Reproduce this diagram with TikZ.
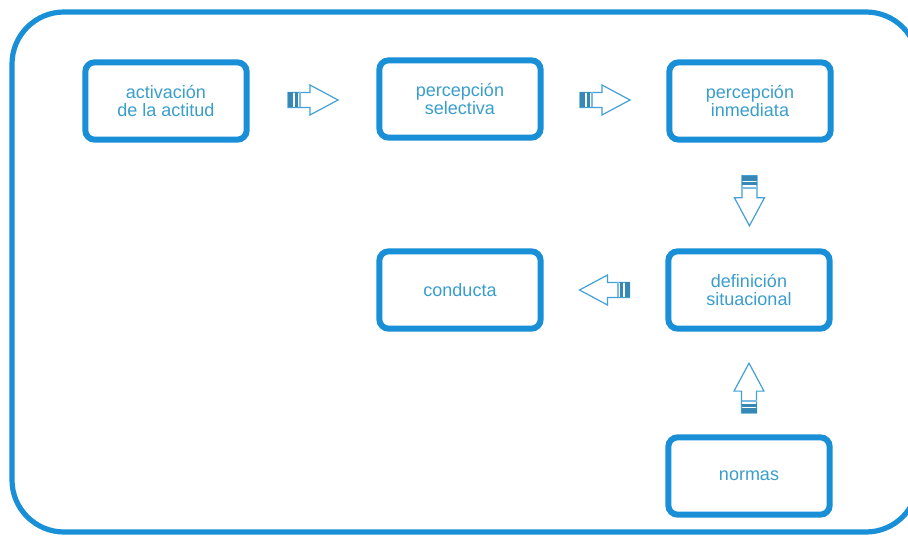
\documentclass[tikz,border=0pt]{standalone}
\usepackage{fontspec}
\setmainfont{Liberation Sans}
\usepackage{xcolor}
\usetikzlibrary{calc, shadows}
\definecolor{frameblue}{RGB}{24,143,214}
\definecolor{textblue}{RGB}{58,158,204}
\definecolor{arrowblue}{RGB}{66,160,214}
\tikzstyle{frame} = [draw=frameblue, line width=3.9pt, rounded corners=39pt]
\tikzset{
    blockarr/.pic={
        \draw[arrowblue, line width=0.9pt, fill=white, line join=miter]
            (-25,-7.5) -- (-3,-7.5) -- (-3,-15) -- (25,0) -- (-3,15)
            -- (-3,7.5) -- (-25,7.5) -- cycle;
        \fill[arrowblue!85!black] (-25,-7.5) rectangle (-20,7.5);
        \fill[arrowblue!85!black] (-18.5,-7.5) rectangle (-15.5,7.5);
        \fill[arrowblue!70] (-14,-7.5) rectangle (-12,7.5);
    }
}

\begin{document}
\begin{tikzpicture}
        [
            x=0.75pt, y=-0.75pt,
            box/.style={rectangle, draw=frameblue, line width=4.5pt, rounded corners=7pt,
                fill=white, minimum width=121pt, minimum height=58pt,
                align=center, text=textblue, font=\fontsize{13.5}{13.5}\selectfont,
                drop shadow={shadow xshift=0.8pt, shadow yshift=-0.8pt, opacity=0.3, fill=gray}},
        ]
    \useasboundingbox (0,0) rectangle (908,538);
    \clip (0,0) rectangle (908,538);

    % outer frame, right side runs past the page
    \draw[frame] (12,12) rectangle (918,532);

    \node[box] (act) at (166,101) {activación\\de la actitud};
    \node[box] (sel) at (460,99) {percepción\\selectiva};
    \node[box] (inm) at (750,101) {percepción\\inmediata};
    \node[box] (def) at (749,290) {definición\\situacional};
    \node[box] (con) at (460,290) {conducta};
    \node[box] (nor) at (749,476) {normas};

    \pic at ($(act.east)!0.5!(sel.west)$) {blockarr};
    \pic at ($(sel.east)!0.5!(inm.west)$) {blockarr};
    \pic[rotate=-90] at ($(inm.south)!0.55!(def.north)$) {blockarr};
    \pic[rotate=180] at ($(def.west)!0.5!(con.east)$) {blockarr};
    \pic[rotate=90] at ($(nor.north)!0.45!(def.south)$) {blockarr};
\end{tikzpicture}
\end{document}
